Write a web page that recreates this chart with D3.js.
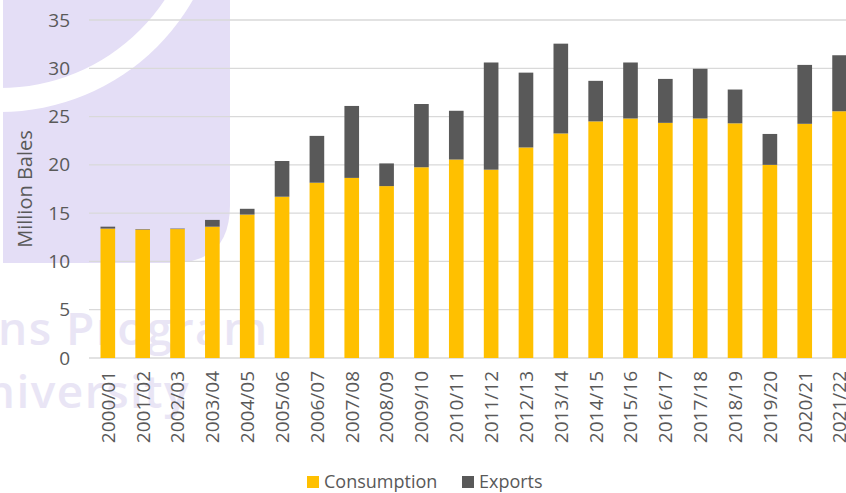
<!DOCTYPE html>
<html>
<head>
<meta charset="utf-8">
<script src="https://cdn.jsdelivr.net/npm/d3@7"></script>
<style>
  body { margin: 0; background: #fff; }
  svg { display: block; font-family: "Open Sans", sans-serif; }
</style>
</head>
<body>
<div id="chart-area"></div>
<script>
var years = ["2000/01", "2001/02", "2002/03", "2003/04", "2004/05", "2005/06", "2006/07",
  "2007/08", "2008/09", "2009/10", "2010/11", "2011/12", "2012/13", "2013/14", "2014/15",
  "2015/16", "2016/17", "2017/18", "2018/19", "2019/20", "2020/21", "2021/22"];
var consumption = [13.4, 13.3, 13.35, 13.6, 14.85, 16.7, 18.15, 18.65, 17.8, 19.75, 20.55,
  19.5, 21.8, 23.25, 24.5, 24.8, 24.35, 24.8, 24.3, 20.0, 24.25, 25.55];
var exports = [0.2, 0.05, 0.05, 0.7, 0.6, 3.7, 4.85, 7.45, 2.35, 6.55, 5.05,
  11.1, 7.75, 9.3, 4.2, 5.8, 4.55, 5.15, 3.5, 3.2, 6.1, 5.8];
var yTicks = [0, 5, 10, 15, 20, 25, 30, 35];
var seriesNames = ["Consumption", "Exports"];
var colors = ["#FFC000", "#595959"];

var width = 846, height = 493;

var svg = d3.select("#chart-area")
  .append("svg")
  .attr("width", width)
  .attr("height", height);

// watermark behind the chart
var wm = svg.append("g");
var lav = "#e4def6";
wm.append("path")
  .attr("d", "M3,0 L230,0 L230,205 Q230,263 172,263 L3,263 Z")
  .attr("fill", lav);
wm.append("path")
  .attr("d", d3.arc()({ innerRadius: 198, outerRadius: 222, startAngle: Math.PI / 2, endAngle: Math.PI }))
  .attr("transform", "translate(0,-110)")
  .attr("fill", "#fff");
wm.append("text")
  .attr("x", -2).attr("y", 345)
  .attr("font-size", 46)
  .attr("font-weight", 600)
  .attr("letter-spacing", 1.5)
  .attr("fill", "#e9e5f5")
  .text("ns Program");
wm.append("text")
  .attr("x", -50).attr("y", 408)
  .attr("font-size", 46)
  .attr("font-weight", 600)
  .attr("letter-spacing", 1.5)
  .attr("fill", "#e9e5f5")
  .text("University");

var x = d3.scaleBand()
  .domain(years)
  .range([90.4, 857])
  .paddingInner(0.58)
  .paddingOuter(0.29);

var y = d3.scaleLinear()
  .domain([0, 35])
  .range([358, 20]);

// gridlines
svg.append("g")
  .selectAll("line")
  .data(yTicks)
  .enter()
  .append("line")
  .attr("x1", 89)
  .attr("x2", width)
  .attr("y1", (d) => y(d))
  .attr("y2", (d) => y(d))
  .attr("stroke", "#d9d9d9")
  .attr("stroke-width", 1.3);

// y axis labels
var yAxis = svg.append("g")
  .attr("transform", "translate(89,0)")
  .call(d3.axisLeft(y).tickValues(yTicks).tickSize(0).tickPadding(19));
yAxis.select(".domain").remove();
yAxis.selectAll("text")
  .attr("font-family", "Open Sans, sans-serif")
  .attr("font-size", 19)
  .attr("fill", "#595959");

// stacked bars
var data = years.map(function(d, i) {
  return { year: d, Consumption: consumption[i], Exports: exports[i] };
});
var stacked = d3.stack().keys(seriesNames)(data);

svg.append("g")
  .selectAll("g")
  .data(stacked)
  .enter()
  .append("g")
  .attr("fill", (d, i) => colors[i])
  .selectAll("rect")
  .data((d) => d)
  .enter()
  .append("rect")
  .attr("x", (d) => x(d.data.year))
  .attr("width", x.bandwidth())
  .attr("y", (d) => y(d[1]))
  .attr("height", (d) => y(d[0]) - y(d[1]));

// x axis labels
var xAxis = svg.append("g")
  .attr("transform", "translate(0,358)")
  .call(d3.axisBottom(x).tickSize(0).tickPadding(0));
xAxis.select(".domain").remove();
xAxis.selectAll("text")
  .attr("font-family", "Open Sans, sans-serif")
  .attr("font-size", 19)
  .attr("fill", "#595959")
  .attr("text-anchor", "end")
  .attr("transform", "rotate(-90)")
  .attr("x", -13)
  .attr("y", 0)
  .attr("dy", "0.36em");

// axis title
svg.append("text")
  .attr("transform", "translate(32,189) rotate(-90)")
  .attr("text-anchor", "middle")
  .attr("font-size", 20)
  .attr("fill", "#595959")
  .text("Million Bales");

// legend
var legend = svg.append("g")
  .selectAll("g")
  .data(seriesNames)
  .enter()
  .append("g")
  .attr("transform", (d, i) => "translate(" + [307, 462][i] + ",476)");
legend.append("rect")
  .attr("width", 12)
  .attr("height", 12)
  .attr("fill", (d, i) => colors[i]);
legend.append("text")
  .attr("x", 17)
  .attr("y", 6)
  .attr("dy", "0.36em")
  .attr("font-size", 18)
  .attr("fill", "#595959")
  .text((d) => d);
</script>
</body>
</html>
